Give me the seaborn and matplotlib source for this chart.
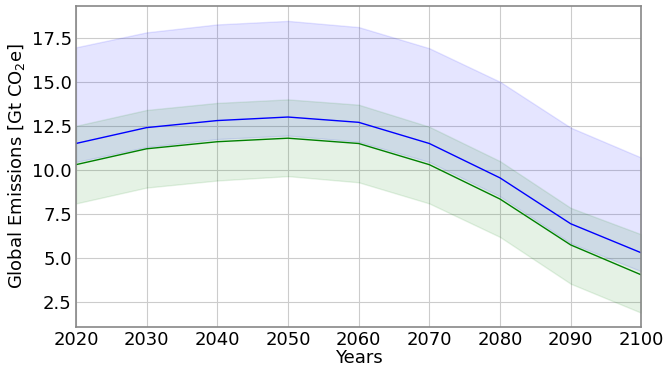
import numpy as np
import pandas as pd
import matplotlib
matplotlib.use('Agg')
import matplotlib.pyplot as plt
import seaborn as sns

years = [2020, 2030, 2040, 2050, 2060, 2070, 2080, 2090, 2100]

blue_mid = [11.5, 12.4, 12.8, 13.0, 12.7, 11.5, 9.55, 6.95, 5.3]
blue_low = [10.45, 11.3, 11.75, 11.95, 11.6, 10.45, 8.5, 5.85, 4.25]
blue_high = [16.95, 17.8, 18.25, 18.45, 18.1, 16.9, 15.0, 12.4, 10.7]

green_mid = [10.3, 11.2, 11.6, 11.8, 11.5, 10.3, 8.35, 5.75, 4.05]
green_low = [8.1, 9.0, 9.4, 9.65, 9.3, 8.1, 6.2, 3.55, 1.9]
green_high = [12.5, 13.4, 13.8, 14.0, 13.7, 12.45, 10.5, 7.85, 6.35]

df = pd.DataFrame({'Years': years, 'blue': blue_mid, 'green': green_mid})

sns.set_style('whitegrid')
plt.rcParams['font.family'] = ['DejaVu Sans']

fig, ax = plt.subplots(figsize=(6.66, 3.69), dpi=100)

ax.fill_between(years, blue_low, blue_high, color='blue', alpha=0.1)
ax.fill_between(years, green_low, green_high, color='green', alpha=0.1)
sns.lineplot(data=df, x='Years', y='blue', color='blue', linewidth=1, ax=ax)
sns.lineplot(data=df, x='Years', y='green', color='green', linewidth=1, ax=ax)

ax.set_xlim(2020, 2100)
ax.set_ylim(1.1, 19.3)
ax.set_xticks(range(2020, 2101, 10))
ax.set_yticks([2.5, 5.0, 7.5, 10.0, 12.5, 15.0, 17.5])
ax.set_xlabel('Years', fontsize=13, labelpad=0, color='black')
ax.set_ylabel('Global Emissions [Gt CO$_2$e]', fontsize=13, labelpad=3, color='black')
ax.tick_params(labelsize=13, length=0, pad=3, labelcolor='black')
ax.grid(True, color='#cccccc', linewidth=0.8)
for s in ax.spines.values():
    s.set_color('#888888')
    s.set_linewidth(1.2)

plt.subplots_adjust(left=0.114, right=0.963, top=0.984, bottom=0.114)
plt.savefig('out.png', dpi=100)
